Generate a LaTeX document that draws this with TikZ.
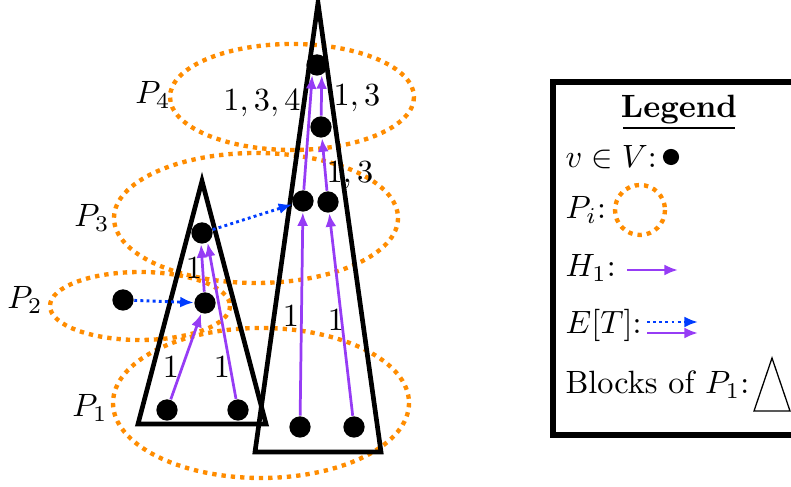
\documentclass[tikz,border=0pt]{standalone}
\usetikzlibrary{arrows.meta}
\definecolor{orng}{RGB}{255,140,0}
\definecolor{purp}{RGB}{150,60,245}
\definecolor{blu}{RGB}{0,60,255}
\begin{document}
\begin{tikzpicture}[x=0.31pt,y=-0.31pt,
  part/.style={draw=orng,line width=1.35pt,dash pattern=on 1.35pt off 1.55pt},
  block/.style={draw=black,line width=1.45pt,line join=miter},
  vtx/.style={circle,fill=black,minimum size=6.6pt,inner sep=0pt},
  harr/.style={draw=purp,line width=0.85pt,-{Latex[length=4.2pt,width=3.4pt]}},
  tarr/.style={draw=blu,line width=0.9pt,dash pattern=on 0.9pt off 1pt,-{Latex[length=4.2pt,width=3.4pt]}},
  lbl/.style={inner sep=0pt}]
\useasboundingbox (0,0) rectangle (791,487);
% partitions
\draw[part] (292,97) ellipse [x radius=122,y radius=53];
\draw[part] (256,218) ellipse [x radius=142,y radius=65];
\draw[part] (140,306) ellipse [x radius=90,y radius=34];
\draw[part] (261,403) ellipse [x radius=148,y radius=75];
% blocks
\draw[block] (202,181) -- (266,424) -- (138,424) -- cycle;
\draw[block] (318,3) -- (381,452) -- (255,452) -- cycle;
% vertices
\node[vtx] (lb1) at (167,410) {};
\node[vtx] (lb2) at (238,410) {};
\node[vtx] (lmid) at (205,303) {};
\node[vtx] (ltop) at (202,233) {};
\node[vtx] (lout) at (123,300) {};
\node[vtx] (rb1) at (300,427) {};
\node[vtx] (rb2) at (354,427) {};
\node[vtx] (rm1) at (303,201) {};
\node[vtx] (rm2) at (328,202) {};
\node[vtx] (rr) at (321,127) {};
\node[vtx] (rtop) at (317,65) {};
% H1 edges
\draw[harr] (lb1) -- (lmid);
\draw[harr] (lb2) -- (ltop.-60);
\draw[harr] (lmid) -- (ltop.-95);
\draw[harr] (rb1) -- (rm1);
\draw[harr] (rb2) -- (rm2);
\draw[harr] (rm1) -- (rtop.-115);
\draw[harr] (rm2) -- (rr);
\draw[harr] (rr) -- (rtop.-65);
% T edges
\draw[tarr] (lout) -- (lmid);
\draw[tarr] (ltop) -- (rm1);
% edge labels
\node[lbl] (e1) at (171,367) {$1$};
\node[lbl] (e2) at (222,367) {$1$};
\node[lbl] (e3) at (194,268) {$1$};
\node[lbl] (e4) at (291,316) {$1$};
\node[lbl] (e5) at (336,320) {$1$};
\node[lbl] (e6) at (350,175) {$1,3$};
\node[lbl] (e7) at (357,98) {$1,3$};
\node[lbl] (e8) at (262,103) {$1,3,4$};
% partition labels
\node[lbl] (p1) at (90,408) {$P_1$};
\node[lbl] (p2) at (25,300) {$P_2$};
\node[lbl] (p3) at (92,218) {$P_3$};
\node[lbl] (p4) at (153,95) {$P_4$};
% legend
\draw[line width=1.6pt] (553,82) rectangle (830,435);
\node[lbl] (lt) at (679,110) {\textbf{Legend}};
\draw[line width=0.4pt] (623,128) -- (735,128);
\node[lbl,anchor=west] (l1) at (565,157) {$v\in V$:};
\node[vtx,minimum size=5pt] (ld) at (671,157) {};
\node[lbl,anchor=west] (l2) at (565,210) {$P_i$:};
\draw[part] (640,210) circle [radius=25];
\node[lbl,anchor=west] (l3) at (565,268) {$H_1$:};
\coordinate (h1a) at (627,270);
\coordinate (h1b) at (678,270);
\draw[harr] (h1a) -- (h1b);
\node[lbl,anchor=west] (l4) at (565,325) {$E[T]$:};
\coordinate (t1a) at (647,322);
\coordinate (t1b) at (698,322);
\coordinate (t2a) at (647,333);
\coordinate (t2b) at (698,333);
\draw[tarr] (t1a) -- (t1b);
\draw[harr] (t2a) -- (t2b);
\node[lbl,anchor=west] (l5) at (565,385) {Blocks of $P_1$:};
\draw[line width=0.4pt] (772,358) -- (790,411) -- (754,411) -- cycle;
\end{tikzpicture}
\end{document}
